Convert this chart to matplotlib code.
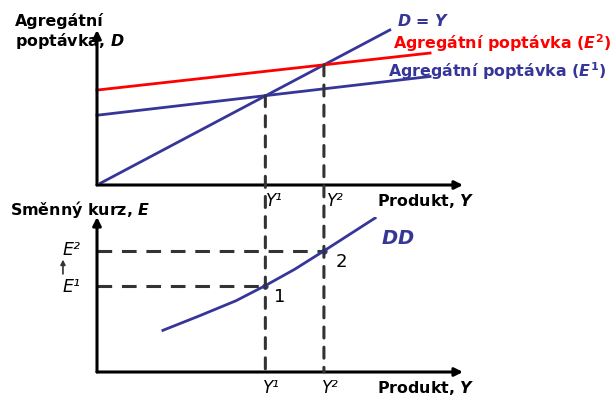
import numpy as np
import matplotlib.pyplot as plt
from matplotlib.patches import ConnectionPatch

plt.rcParams['font.family'] = ['DejaVu Sans']
plt.rcParams['mathtext.fontset'] = 'custom'
plt.rcParams['mathtext.it'] = 'DejaVu Sans:italic:bold'
plt.rcParams['mathtext.rm'] = 'DejaVu Sans:bold'

# top panel: aggregate demand (0..100 product, 0..80 demand)
y_line = np.array([1, 80])            # D = Y
ad_x = np.array([0, 91])
ad1_int, ad1_slope = 36, 0.22         # E1
ad2_int, ad2_slope = 49, 0.21         # E2
Y1, Y2 = 46, 62

# bottom panel: DD schedule
dd_Y = [18, 28, 38, 46, 54, 62, 69, 76]
dd_E = [21.5, 29, 36.8, 44.6, 53, 62.5, 71, 79.5]
E1, E2 = 44.6, 62.5

blue = '#363699'
red = '#ff0000'
dash = '#333333'
lw = 2.0
dlw = 2.2
hdash = (0, (4.8, 3.2))
vdash = (0, (3.6, 3.0))

fig = plt.figure(figsize=(6.11, 3.96), dpi=100)
ax1 = fig.add_axes([97/611, 211/396, 366/611, 155/396])
ax2 = fig.add_axes([97/611, 24/396, 366/611, 155/396])

for ax in (ax1, ax2):
    ax.set_xlim(0, 100)
    ax.set_ylim(0, 80)
    ax.axis('off')
    ax.annotate('', xy=(0, 1), xytext=(0, 0), xycoords='axes fraction',
                arrowprops=dict(arrowstyle='-|>', lw=2.2, color='black',
                                mutation_scale=12, shrinkA=0, shrinkB=0))
    ax.annotate('', xy=(1, 0), xytext=(0, 0), xycoords='axes fraction',
                arrowprops=dict(arrowstyle='-|>', lw=2.2, color='black',
                                mutation_scale=12, shrinkA=0, shrinkB=0))

# top lines
ax1.plot(y_line, y_line, color=blue, lw=lw, clip_on=False)
ax1.plot(ad_x, ad2_int + ad2_slope * ad_x, color=red, lw=lw, clip_on=False)
ax1.plot(ad_x, ad1_int + ad1_slope * ad_x, color=blue, lw=lw, clip_on=False)

# dashed verticals through both panels
for yv, dv in ((Y1, ad1_int + ad1_slope * Y1), (Y2, ad2_int + ad2_slope * Y2)):
    con = ConnectionPatch(xyA=(yv, dv), coordsA=ax1.transData,
                          xyB=(yv, 0), coordsB=ax2.transData,
                          color=dash, lw=dlw, linestyle=vdash, zorder=1)
    fig.add_artist(con)

# bottom
ax2.plot([0, Y2], [E2, E2], color=dash, lw=dlw, linestyle=hdash)
ax2.plot([0, Y1], [E1, E1], color=dash, lw=dlw, linestyle=hdash)
ax2.plot(dd_Y, dd_E, color=blue, lw=lw)
ax2.plot([Y1, Y2], [E1, E2], 'o', color=blue, ms=3.5)

fs = 11.4
# top texts
fig.text(15/611, 1 - 21/396, 'Agregátní', fontsize=fs, fontweight='bold', va='center')
fig.text(15/611, 1 - 41/396, 'poptávka, $\\mathit{D}$', fontsize=fs, fontweight='bold', va='center')
ax1.text(82, 84.4, '$\\mathit{D}$ = $\\mathit{Y}$', color=blue, fontsize=fs,
         fontweight='bold', va='center')
ax1.text(80.9, 73.1, 'Agregátní poptávka ($\\mathit{E}^2$)', color=red, fontsize=fs,
         fontweight='bold', va='center')
ax1.text(79.5, 58.8, 'Agregátní poptávka ($\\mathit{E}^1$)', color=blue, fontsize=fs,
         fontweight='bold', va='center')
ax1.text(48.5, -8.5, 'Y¹', fontsize=12, fontstyle='italic', va='center', ha='center')
ax1.text(65, -8.5, 'Y²', fontsize=12, fontstyle='italic', va='center', ha='center')
ax1.text(76.5, -8.5, 'Produkt, $\\mathit{Y}$', fontsize=fs, fontweight='bold', va='center')

# bottom texts
fig.text(10/611, 1 - 209/396, 'Směnný kurz, $\\mathit{E}$', fontsize=fs,
         fontweight='bold', va='center')
ax2.text(-4.6, E2 + 0.5, 'E²', fontsize=12.5, fontstyle='italic', ha='right', va='center')
ax2.text(-4.6, E1 - 0.5, 'E¹', fontsize=12.5, fontstyle='italic', ha='right', va='center')
ax2.annotate('', xy=(-9.3, E2 - 4.5), xytext=(-9.3, E1 + 6), annotation_clip=False,
             arrowprops=dict(arrowstyle='-|>', lw=1.2, color='#333333',
                             mutation_scale=7, shrinkA=0, shrinkB=0))
ax2.text(77.6, 69, '$DD$', color=blue, fontsize=14, va='center')
ax2.text(48.3, 38.5, '1', fontsize=13, va='center')
ax2.text(65.3, 57, '2', fontsize=13, va='center')
ax2.text(47.5, -8.2, 'Y¹', fontsize=12, fontstyle='italic', va='center', ha='center')
ax2.text(63.8, -8.2, 'Y²', fontsize=12, fontstyle='italic', va='center', ha='center')
ax2.text(76.5, -8.2, 'Produkt, $\\mathit{Y}$', fontsize=fs, fontweight='bold', va='center')

fig.savefig('out.png', dpi=100)
